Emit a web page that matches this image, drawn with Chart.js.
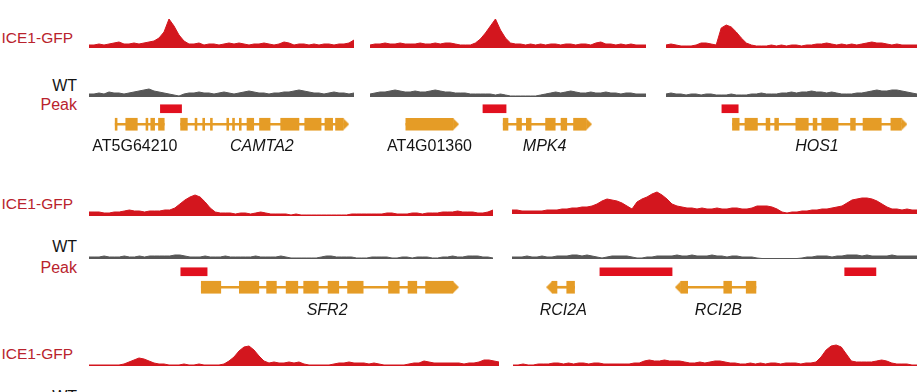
<!DOCTYPE html>
<html><head><meta charset="utf-8">
<script src="https://cdn.jsdelivr.net/npm/chart.js@4"></script>
<style>
html,body{margin:0;padding:0;background:#fff;}
#fig{position:relative;width:917px;height:392px;overflow:hidden;background:#fff;font-family:"Liberation Sans",Arial,sans-serif;}
.lab{position:absolute;left:0;width:77px;text-align:right;font-size:16px;line-height:16px;white-space:nowrap;}
.ice{width:73px;font-size:15.5px;}
.red{color:#b9232d}
.blk{color:#141414}
canvas{position:absolute;}
</style></head>
<body><div id="fig"></div>
<script>
// ---------------- DATA ----------------
const trackNames = ["ICE1-GFP", "WT", "Peak"];

// ICE1-GFP ChIP signal (coverage, arbitrary units)
const iceA = [3,3,4,3,4,5,6,4,4,5,4,5,6,7,10,16,29,22,13,7,4,4,5,3,4,4,3,4,5,4,5,4,3,4,4,5,4,3,4,6,5,3,4,4,3,4,3,4,4,3,4,4,5,8];
const iceB = [3,4,4,5,4,4,5,4,4,4,5,4,4,5,4,5,5,4,3,3,3,5,9,15,22,29,18,10,5,4,4,3,4,3,4,3,4,4,3,4,4,3,4,4,3,5,6,4,4,3,4,3,4,3,3,3];
const iceC = [3,4,3,2,2,2,3,5,5,4,3,20,23,21,16,10,5,3,2,2,2,3,2,3,2,3,3,2,3,3,4,4,5,4,3,4,3,4,3,4,5,6,5,5,4,3,4,3,3,3,3];
const iceD = [4,4,4,3,3,4,4,5,6,5,5,4,5,5,5,6,6,8,12,16,19,21,19,14,8,4,3,3,3,2,3,3,2,3,4,3,2,2,2,2,1,2,1,1,1,1,1,1,1,1,1,1,2,2,2,2,2,2,2,3,3,2,2,2,3,3,2,3,3,3,4,4,4,5,4,4,4,3,3,4,6];
const iceE = [4,4,3,3,3,3,3,4,4,4,5,5,6,6,7,7,8,10,13,15,14,13,11,8,5,12,15,17,20,22,19,15,10,8,7,6,6,5,6,5,5,6,5,5,6,6,5,5,6,8,8,8,7,5,2,1,2,2,3,3,4,4,5,5,6,7,8,11,14,15,16,16,15,13,10,7,5,5,4,5,4,4];
const iceF = [1,1,1,1,1,1,1,2,4,6,8,7,5,3,2,2,1,1,1,2,1,1,2,1,1,1,1,2,5,9,15,19,20,16,10,5,3,4,3,3,4,3,4,2,1,1,1,1,1,2,3,3,4,3,3,3,2,3,2,1,1,1,1,1,2,3,3,5,4,3,3,3,3,3,3,2,3,3,4,6,6,5,4];
const iceG = [1,1,2,1,1,2,2,2,3,3,2,3,2,3,3,2,3,3,2,2,2,2,2,2,3,3,5,6,5,5,6,5,5,5,4,3,3,4,3,4,5,5,4,3,3,2,2,3,2,3,2,3,3,2,3,3,3,2,3,3,4,9,16,20,21,19,12,5,4,4,4,4,5,6,5,3,2,2,2,1,1];

// WT control signal
const wtA = [3,3,4,3,5,4,4,3,4,5,6,7,8,6,5,4,3,2,1,3,4,4,5,4,4,3,4,5,4,3,4,5,6,5,4,4,3,4,4,5,5,6,7,6,5,4,4,3,4,5,4,4,3,4];
const wtB = [3,4,5,5,6,7,6,5,5,6,5,5,6,7,6,5,5,4,4,4,3,3,3,3,3,2,3,2,1,1,1,1,1,1,2,3,4,5,4,5,6,5,4,4,5,4,4,5,4,4,3,4,4,3,3,3];
const wtC = [3,4,3,3,2,3,3,2,3,3,2,2,2,3,2,2,2,3,3,4,3,3,3,4,4,5,4,5,5,6,5,5,4,5,4,3,3,3,4,4,5,6,7,6,6,7,7,6,5,4,3];
const wtD = [2,2,2,3,2,2,2,3,2,2,3,2,3,3,3,3,3,4,4,3,2,2,2,3,2,2,2,3,2,2,2,2,2,3,2,2,2,2,3,2,1,1,1,1,1,1,2,3,3,2,2,2,2,1,1,1,2,2,2,2,1,1,2,2,1,2,2,2,1,1,2,2,3,2,2,3,3,3,2,2,1];
const wtE = [2,2,2,3,2,2,3,2,2,3,3,3,4,4,3,4,3,2,1,2,3,3,3,3,2,1,1,2,2,3,3,3,3,4,3,3,4,3,3,3,4,3,3,2,3,3,2,2,2,1,0.5,0.5,0.5,0.5,0.5,0.5,0.5,0.5,1,2,2,3,3,3,2,3,3,4,4,4,3,4,3,3,3,3,4,3,3,3,3,3];

// Called peaks (start, end; position within each locus window)
const peaksA = [[69,91]];
const peaksB = [[112,136]];
const peaksC = [[53,70]];
const peaksD = [[89,116]];
const peaksE = [[85,159],[336,368]];

// Gene models: exons (start, end) within each locus window
const exonsAT5G64210 = [[22,24],[33,45],[54,56],[59,63],[67,73]];
const exonsCAMTA2 = [[90,97],[105,107],[113,115],[121,123],[138,140],[144,146],[151,153],[159,166],[172,183],[194,213],[219,236],[240,248],[251,259]];
const exonsAT4G01360 = [[32,81]];
const exonsMPK4 = [[133,138],[147,152],[157,162],[177,187],[193,199],[206,219]];
const exonsHOS1 = [[64,71],[77,90],[99,103],[108,112],[130,143],[148,152],[157,174],[187,192],[200,219],[229,240]];
const exonsSFR2 = [[110,130],[149,169],[177,187],[197,209],[215,230],[240,251],[260,276],[302,313],[322,331],[340,368]];
const exonsRCI2A = [[36,41],[51,59]];
const exonsRCI2B = [[168,175],[212,220],[235,245]];

const geneNames = ["AT5G64210","CAMTA2","AT4G01360","MPK4","HOS1","SFR2","RCI2A","RCI2B"];

// ---------------- STYLE ----------------
const ICE_RED = '#d3161e';
const WT_GRAY = '#575757';
const PEAK_RED = '#e1101e';
const GENE_ORANGE = '#e59c26';
const FONT = '"Liberation Sans", Arial, sans-serif';

const fig = document.getElementById('fig');

function mkGene(name, exons, strand, italic, labelShift) {
  return {name, exons, strand, italic, labelShift: labelShift || 0,
    span: [exons[0][0], exons[exons.length - 1][1]]};
}

function arrowImage(dir) {
  const c = document.createElement('canvas');
  c.width = 12; c.height = 12;
  const g = c.getContext('2d');
  g.fillStyle = GENE_ORANGE;
  g.beginPath();
  if (dir > 0) { g.moveTo(6, 0); g.lineTo(12, 6); g.lineTo(6, 12); }
  else { g.moveTo(6, 0); g.lineTo(0, 6); g.lineTo(6, 12); }
  g.closePath(); g.fill();
  return c;
}
const ARROW_R = arrowImage(1), ARROW_L = arrowImage(-1);

function addCanvas(left, top, width, height) {
  const c = document.createElement('canvas');
  c.width = width; c.height = height;
  c.style.left = left + 'px'; c.style.top = top + 'px';
  c.style.width = width + 'px'; c.style.height = height + 'px';
  fig.appendChild(c);
  return c;
}

const baseOpts = {
  responsive: false, animation: false, events: [], devicePixelRatio: 1,
  layout: {padding: 0},
  plugins: {legend: {display: false}, tooltip: {enabled: false}}
};

function signalChart(left, bottom, width, height, values, color, max) {
  const c = addCanvas(left, bottom - height, width, height);
  new Chart(c, {
    type: 'line',
    data: {labels: values.map((_, i) => i),
      datasets: [{data: values, fill: 'origin', backgroundColor: color, borderColor: color,
        borderWidth: 1, pointRadius: 0, tension: 0}]},
    options: Object.assign({}, baseOpts, {
      scales: {x: {display: false, offset: false}, y: {display: false, min: 0, max: max}}
    })
  });
}

const geneLabelPlugin = {
  id: 'geneLabels',
  afterDatasetsDraw(chart, args, opts) {
    const {ctx} = chart; const x = chart.scales.x, y = chart.scales.y;
    ctx.save();
    ctx.fillStyle = '#141414'; ctx.textAlign = 'center'; ctx.textBaseline = 'middle';
    for (const g of opts.genes) {
      ctx.font = (g.italic ? 'italic ' : '') + '16px ' + FONT;
      ctx.fillText(g.name, x.getPixelForValue((g.span[0] + g.span[1]) / 2 + g.labelShift), y.getPixelForValue('label') + opts.dy);
    }
    ctx.restore();
  }
};

function featureChart(left, top, width, genes, peaks, dy) {
  const c = addCanvas(left, top, width, 72);
  new Chart(c, {
    type: 'bar',
    data: {
      labels: ['peak', 'gene', 'label', 'pad'],
      datasets: [
        {label: 'peaks', data: peaks.map(p => ({x: p, y: 'peak'})), backgroundColor: PEAK_RED,
          barThickness: 8, grouped: false, order: 2},
        {label: 'introns', data: genes.map(g => ({x: g.span, y: 'gene'})), backgroundColor: GENE_ORANGE,
          barThickness: 2, grouped: false, order: 3},
        {label: 'exons', data: genes.flatMap(g => g.exons.map(e => ({x: e, y: 'gene'}))), backgroundColor: GENE_ORANGE,
          barThickness: 12, grouped: false, order: 1},
        {type: 'line', label: 'strand', showLine: false, order: 0,
          data: genes.filter(g => g.strand !== 0).map(g => ({x: g.strand > 0 ? g.span[1] : g.span[0], y: 'gene'})),
          pointStyle: genes.filter(g => g.strand !== 0).map(g => g.strand > 0 ? ARROW_R : ARROW_L),
          pointRadius: 3}
      ]
    },
    options: Object.assign({}, baseOpts, {
      indexAxis: 'y',
      scales: {
        x: {type: 'linear', display: false, min: 0, max: width},
        y: {type: 'category', display: false, offset: true}
      },
      plugins: Object.assign({}, baseOpts.plugins, {geneLabels: {genes, dy}})
    }),
    plugins: [geneLabelPlugin]
  });
}

function label(text, cls, centerY, extra) {
  const d = document.createElement('div');
  d.className = 'lab ' + cls + (extra ? ' ' + extra : '');
  d.textContent = text;
  d.style.top = (centerY - 8) + 'px';
  fig.appendChild(d);
}

// ---------------- LAYOUT ----------------
// Row 1
label(trackNames[0], 'red', 38, 'ice');
label(trackNames[1], 'blk', 86);
label(trackNames[2], 'red', 105);
signalChart(89, 48, 265, 32, iceA, ICE_RED, 32);
signalChart(370, 48, 276, 32, iceB, ICE_RED, 32);
signalChart(666, 48, 251, 32, iceC, ICE_RED, 32);
signalChart(89, 97, 265, 12, wtA, WT_GRAY, 12);
signalChart(370, 97, 276, 12, wtB, WT_GRAY, 12);
signalChart(666, 97, 251, 12, wtC, WT_GRAY, 12);
featureChart(89, 96, 265, [mkGene(geneNames[0], exonsAT5G64210, 0, false, -5), mkGene(geneNames[1], exonsCAMTA2, 1, true)], peaksA, 7);
featureChart(370, 96, 276, [mkGene(geneNames[2], exonsAT4G01360, 1, false), mkGene(geneNames[3], exonsMPK4, 1, true)], peaksB, 7);
featureChart(666, 96, 251, [mkGene(geneNames[4], exonsHOS1, 1, true)], peaksC, 7);

// Row 2
label(trackNames[0], 'red', 204, 'ice');
label(trackNames[1], 'blk', 247);
label(trackNames[2], 'red', 268);
signalChart(89, 216, 404, 32, iceD, ICE_RED, 32);
signalChart(512, 214, 405, 32, iceE, ICE_RED, 32);
signalChart(89, 259, 404, 12, wtD, WT_GRAY, 12);
signalChart(512, 259, 405, 12, wtE, WT_GRAY, 12);
featureChart(89, 259, 404, [mkGene(geneNames[5], exonsSFR2, 1, true)], peaksD, 8);
featureChart(512, 259, 405, [mkGene(geneNames[6], exonsRCI2A, -1, true), mkGene(geneNames[7], exonsRCI2B, -1, true)], peaksE, 8);

// Row 3
label(trackNames[0], 'red', 354, 'ice');
label(trackNames[1], 'blk', 397);
signalChart(89, 366, 410, 32, iceF, ICE_RED, 32);
signalChart(513, 366, 404, 32, iceG, ICE_RED, 32);
</script>
</body></html>
